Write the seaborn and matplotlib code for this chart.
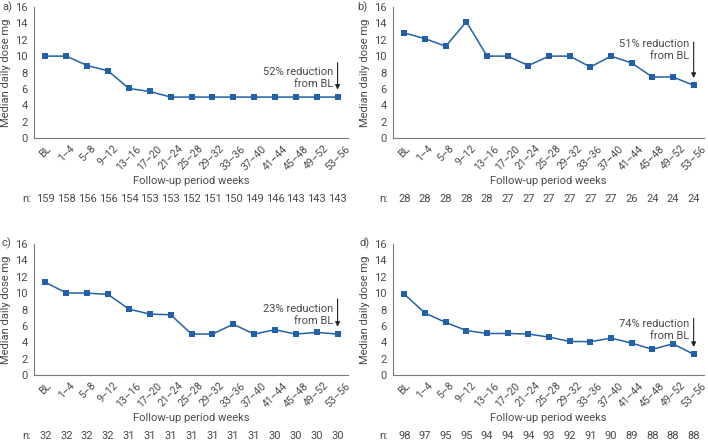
import numpy as np
import pandas as pd
import matplotlib
matplotlib.use("Agg")
import matplotlib.pyplot as plt
import seaborn as sns

# periods (x categories)
periods = ["BL", "1–4", "5–8", "9–12", "13–16", "17–20", "21–24", "25–28",
           "29–32", "33–36", "37–40", "41–44", "45–48", "49–52", "53–56"]

# median daily dose per panel
dose_a = [10, 10, 8.85, 8.2, 6.05, 5.68, 5, 5, 5, 5, 5, 5, 5, 5, 5]
dose_b = [12.83, 12.13, 11.2, 14.2, 10, 10, 8.85, 10, 10, 8.67, 10, 9.16, 7.45, 7.45, 6.43]
dose_c = [11.3, 10.03, 10, 9.84, 8.05, 7.44, 7.36, 5, 5, 6.2, 5, 5.52, 5, 5.2, 5]
dose_d = [9.87, 7.56, 6.42, 5.43, 5.07, 5.07, 5.0, 4.63, 4.1, 4.07, 4.5, 3.9, 3.13, 3.82, 2.52]

# patients at each period
n_a = [159, 158, 156, 156, 154, 153, 153, 152, 151, 150, 149, 146, 143, 143, 143]
n_b = [28, 28, 28, 28, 28, 27, 27, 27, 27, 27, 27, 26, 24, 24, 24]
n_c = [32, 32, 32, 32, 31, 31, 31, 31, 31, 31, 31, 30, 30, 30, 30]
n_d = [98, 97, 95, 95, 94, 94, 94, 93, 92, 91, 90, 89, 88, 88, 88]

reductions = ["52%", "51%", "23%", "74%"]
panel_labels = ["a)", "b)", "c)", "d)"]

sns.set_style("white")
plt.rcParams["font.family"] = ["Roboto", "DejaVu Sans"]

line_col = "#2261a8"
txt_col = "#4a4a4a"
ax_col = "#7a7a7a"
fs = 8

W, H = 708, 440
fig = plt.figure(figsize=(W / 100, H / 100), dpi=100)

# layout in pixels: axes box (left, right, top, bottom), panel label, "n:" x,
# arrow top / text top offsets above last point
layout = [
    dict(box=(34, 348, 7, 138), lab=(2, 7), nx=22, arr=4.2, txt=3.7),
    dict(box=(393, 704, 7, 138), lab=(357, 7), nx=379, arr=5.3, txt=5.7),
    dict(box=(34, 348, 244, 375), lab=(2, 243), nx=22, arr=4.3, txt=3.7),
    dict(box=(393, 704, 244, 375), lab=(359, 243), nx=379, arr=4.4, txt=4.3),
]

panels = zip([dose_a, dose_b, dose_c, dose_d], [n_a, n_b, n_c, n_d],
             reductions, panel_labels, layout)

for dose, nvals, red, plab, lay in panels:
    l, r, t, b = lay["box"]
    ax = fig.add_axes([l / W, 1 - b / H, (r - l) / W, (b - t) / H])
    df = pd.DataFrame({"period": periods, "dose": dose})
    sns.lineplot(data=df, x="period", y="dose", ax=ax, color=line_col,
                 marker="s", markersize=4, markeredgewidth=0, linewidth=1.1,
                 sort=False)
    ax.set_xlim(-0.55, len(periods) - 0.5)
    ax.set_ylim(0, 16)
    ax.set_yticks(range(0, 17, 2))
    ax.set_xticks(range(len(periods)))
    ax.set_xticklabels(periods, rotation=45, ha="center", fontsize=7.5,
                       color=txt_col)
    ax.set_xticks(np.arange(-0.5, len(periods), 1), minor=True)
    ax.tick_params(axis="x", which="major", length=0, pad=4)
    ax.tick_params(axis="x", which="minor", length=4, width=0.8, color=ax_col)
    ax.tick_params(axis="y", length=3, width=0.8, color=ax_col, labelsize=fs,
                   labelcolor=txt_col, pad=1.5)
    for s in ["top", "right"]:
        ax.spines[s].set_visible(False)
    for s in ["left", "bottom"]:
        ax.spines[s].set_color(ax_col)
        ax.spines[s].set_linewidth(0.8)
    ax.set_xlabel("")
    ax.set_ylabel("Median daily dose mg", fontsize=fs, color=txt_col, labelpad=3)

    # x label and n row
    cx = (l + r) / 2
    fig.text(cx / W, 1 - (b + 43) / H, "Follow-up period weeks", ha="center",
             va="center", fontsize=fs, color=txt_col)
    yrow = 1 - (b + 61) / H
    for i, nv in enumerate(nvals):
        xd = fig.transFigure.inverted().transform(ax.transData.transform((i, 0)))[0]
        fig.text(xd, yrow, str(nv), ha="center", va="center", fontsize=fs,
                 color=txt_col)
    fig.text(lay["nx"] / W, yrow, "n:", ha="left", va="center", fontsize=fs,
             color=txt_col)

    # annotation arrow
    last = len(periods) - 1
    ax.annotate("", xy=(last, dose[-1] + 0.9), xytext=(last, dose[-1] + lay["arr"]),
                arrowprops=dict(arrowstyle="-|>", color="#222222", lw=0.8,
                                mutation_scale=7, shrinkA=0, shrinkB=0))
    ax.text(last - 0.22, dose[-1] + lay["txt"], f"{red} reduction\nfrom BL",
            ha="right", va="top", fontsize=fs, color=txt_col, linespacing=1.25)

    fig.text(lay["lab"][0] / W, 1 - lay["lab"][1] / H, plab, ha="left",
             va="center", fontsize=fs, color=txt_col)

fig.savefig("out.png", dpi=100)
